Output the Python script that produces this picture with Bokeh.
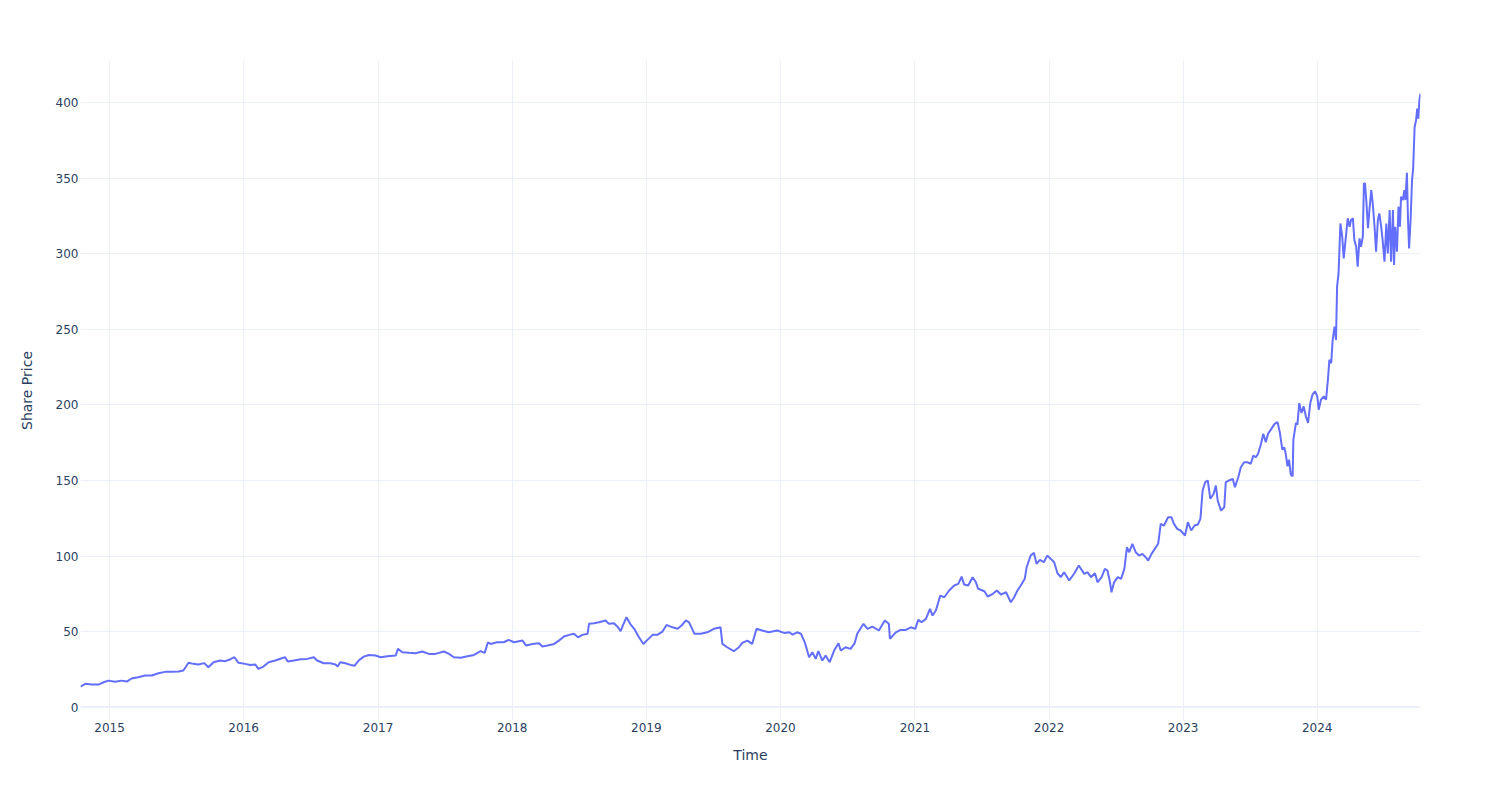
import pandas as pd
from bokeh.plotting import figure
from bokeh.models import Range1d, FixedTicker, DatetimeTickFormatter, Span, ColumnDataSource
from bokeh.embed import file_html
from bokeh.resources import INLINE

dates = [
    "2014-10-14", "2014-10-27", "2014-11-14", "2014-12-02", "2014-12-16", "2014-12-29",
    "2015-01-16", "2015-02-03", "2015-02-17", "2015-03-02", "2015-03-20", "2015-04-08",
    "2015-04-26", "2015-05-14", "2015-06-01", "2015-06-19", "2015-07-08", "2015-07-21",
    "2015-07-27", "2015-08-04", "2015-08-17", "2015-08-31", "2015-09-16", "2015-09-27",
    "2015-10-11", "2015-10-29", "2015-11-12", "2015-11-25", "2015-12-07", "2015-12-18",
    "2016-01-05", "2016-01-19", "2016-02-02", "2016-02-10", "2016-02-24", "2016-03-09",
    "2016-03-27", "2016-04-14", "2016-04-23", "2016-04-30", "2016-05-17", "2016-06-04",
    "2016-06-22", "2016-07-10", "2016-07-19", "2016-08-06", "2016-08-24", "2016-09-07",
    "2016-09-13", "2016-09-20", "2016-10-04", "2016-10-18", "2016-10-29", "2016-11-09",
    "2016-11-23", "2016-12-07", "2016-12-25", "2017-01-08", "2017-01-26", "2017-02-18",
    "2017-02-24", "2017-03-08", "2017-03-26", "2017-04-13", "2017-05-01", "2017-05-19",
    "2017-06-06", "2017-06-29", "2017-07-13", "2017-07-26", "2017-08-14", "2017-09-01",
    "2017-09-19", "2017-10-07", "2017-10-18", "2017-10-27", "2017-11-03", "2017-11-21",
    "2017-12-09", "2017-12-22", "2018-01-06", "2018-01-29", "2018-02-08", "2018-02-25",
    "2018-03-15", "2018-03-24", "2018-04-07", "2018-04-25", "2018-05-08", "2018-05-22",
    "2018-06-05", "2018-06-18", "2018-06-29", "2018-07-11", "2018-07-25", "2018-07-29",
    "2018-08-12", "2018-08-25", "2018-09-12", "2018-09-21", "2018-10-05", "2018-10-16",
    "2018-10-23", "2018-10-31", "2018-11-08", "2018-11-18", "2018-11-29", "2018-12-12",
    "2018-12-24", "2019-01-04", "2019-01-18", "2019-01-31", "2019-02-14", "2019-02-25",
    "2019-03-13", "2019-03-27", "2019-04-07", "2019-04-18", "2019-04-27", "2019-05-12",
    "2019-05-29", "2019-06-16", "2019-07-04", "2019-07-22", "2019-07-27", "2019-08-09",
    "2019-08-27", "2019-09-10", "2019-09-19", "2019-10-03", "2019-10-16", "2019-10-28",
    "2019-11-12", "2019-11-30", "2019-12-23", "2020-01-11", "2020-01-25", "2020-02-03",
    "2020-02-15", "2020-02-26", "2020-03-08", "2020-03-19", "2020-03-28", "2020-04-06",
    "2020-04-13", "2020-04-24", "2020-05-03", "2020-05-14", "2020-05-26", "2020-06-07",
    "2020-06-13", "2020-06-26", "2020-07-10", "2020-07-21", "2020-07-28", "2020-08-14",
    "2020-08-25", "2020-09-07", "2020-09-25", "2020-10-11", "2020-10-22", "2020-10-25",
    "2020-11-10", "2020-11-23", "2020-12-07", "2020-12-21", "2021-01-02", "2021-01-10",
    "2021-01-19", "2021-01-31", "2021-02-11", "2021-02-18", "2021-02-27", "2021-03-11",
    "2021-03-22", "2021-04-04", "2021-04-18", "2021-04-29", "2021-05-08", "2021-05-15",
    "2021-05-26", "2021-06-07", "2021-06-16", "2021-06-22", "2021-07-09", "2021-07-18",
    "2021-08-01", "2021-08-12", "2021-08-23", "2021-09-06", "2021-09-19", "2021-09-28",
    "2021-10-07", "2021-10-16", "2021-10-27", "2021-11-01", "2021-11-12", "2021-11-21",
    "2021-11-28", "2021-12-07", "2021-12-18", "2021-12-27", "2022-01-06", "2022-01-15",
    "2022-01-24", "2022-02-02", "2022-02-11", "2022-02-25", "2022-03-11", "2022-03-23",
    "2022-04-07", "2022-04-16", "2022-04-25", "2022-05-06", "2022-05-13", "2022-05-24",
    "2022-06-02", "2022-06-09", "2022-06-16", "2022-06-20", "2022-06-27", "2022-07-07",
    "2022-07-16", "2022-07-25", "2022-08-01", "2022-08-07", "2022-08-16", "2022-08-25",
    "2022-09-03", "2022-09-12", "2022-09-21", "2022-09-28", "2022-10-07", "2022-10-16",
    "2022-10-25", "2022-11-01", "2022-11-10", "2022-11-21", "2022-11-30", "2022-12-07",
    "2022-12-16", "2022-12-25", "2023-01-06", "2023-01-14", "2023-01-23", "2023-02-01",
    "2023-02-10", "2023-02-17", "2023-02-23", "2023-03-02", "2023-03-09", "2023-03-16",
    "2023-03-25", "2023-03-31", "2023-04-05", "2023-04-14", "2023-04-23", "2023-04-27",
    "2023-05-06", "2023-05-16", "2023-05-22", "2023-05-31", "2023-06-07", "2023-06-16",
    "2023-06-25", "2023-07-04", "2023-07-11", "2023-07-18", "2023-07-24", "2023-08-01",
    "2023-08-07", "2023-08-14", "2023-08-20", "2023-08-29", "2023-09-07", "2023-09-15",
    "2023-09-21", "2023-09-28", "2023-10-03", "2023-10-07", "2023-10-12", "2023-10-16",
    "2023-10-21", "2023-10-26", "2023-10-28", "2023-11-04", "2023-11-08", "2023-11-13",
    "2023-11-19", "2023-11-25", "2023-12-01", "2023-12-07", "2023-12-13", "2023-12-19",
    "2023-12-26", "2024-01-01", "2024-01-05", "2024-01-11", "2024-01-19", "2024-01-25",
    "2024-01-30", "2024-02-03", "2024-02-08", "2024-02-12", "2024-02-17", "2024-02-21",
    "2024-02-24", "2024-02-28", "2024-03-04", "2024-03-09", "2024-03-13", "2024-03-18",
    "2024-03-24", "2024-03-29", "2024-04-02", "2024-04-07", "2024-04-11", "2024-04-16",
    "2024-04-20", "2024-04-25", "2024-04-29", "2024-05-04", "2024-05-07", "2024-05-10",
    "2024-05-14", "2024-05-18", "2024-05-22", "2024-05-27", "2024-05-31", "2024-06-05",
    "2024-06-09", "2024-06-14", "2024-06-18", "2024-06-23", "2024-06-27", "2024-07-02",
    "2024-07-07", "2024-07-11", "2024-07-16", "2024-07-20", "2024-07-25", "2024-07-28",
    "2024-07-31", "2024-08-05", "2024-08-09", "2024-08-13", "2024-08-16", "2024-08-21",
    "2024-08-25", "2024-08-28", "2024-09-01", "2024-09-04", "2024-09-07", "2024-09-11",
    "2024-09-15", "2024-09-18", "2024-09-22", "2024-09-26", "2024-09-29", "2024-10-02",
    "2024-10-05", "2024-10-08",
]

prices = [
    13.6, 15.4, 14.9, 14.9, 16.4, 17.5,
    16.7, 17.5, 16.9, 18.9, 19.7, 20.9,
    20.9, 22.4, 23.3, 23.3, 23.5, 24.2,
    26.4, 29.3, 28.6, 28.2, 29.1, 26.4,
    29.7, 30.8, 30.4, 31.5, 33.0, 29.3,
    28.6, 27.9, 28.2, 25.3, 26.8, 29.7,
    30.8, 32.3, 33.0, 30.1, 30.8, 31.7,
    31.9, 33.0, 30.8, 29.0, 29.0, 28.2,
    26.8, 29.7, 29.0, 27.9, 27.4, 30.8,
    33.4, 34.5, 34.1, 33.0, 33.6, 34.1,
    38.5, 36.3, 35.9, 35.6, 36.8, 35.2,
    35.2, 36.8, 35.2, 33.0, 32.6, 33.6,
    34.5, 37.0, 35.9, 42.9, 41.8, 42.9,
    42.9, 44.5, 42.9, 44.0, 40.7, 41.8,
    42.3, 40.1, 40.7, 41.8, 44.0, 46.7,
    47.8, 48.5, 46.2, 47.8, 48.5, 55.1,
    55.5, 56.2, 57.3, 55.1, 55.5, 52.8,
    50.2, 55.1, 59.5, 55.1, 51.8, 46.2,
    41.8, 44.5, 47.8, 47.8, 50.0, 54.4,
    52.8, 51.8, 54.0, 57.3, 56.2, 48.5,
    48.5, 49.5, 51.8, 52.8, 41.8, 39.6,
    37.0, 39.6, 42.5, 44.0, 41.8, 51.8,
    50.7, 49.5, 50.7, 49.1, 49.5, 48.0,
    49.5, 48.5, 42.3, 33.0, 36.3, 31.9,
    37.0, 30.8, 34.1, 29.7, 37.4, 42.3,
    37.4, 39.6, 38.5, 42.3, 48.5, 55.1,
    51.8, 53.3, 50.7, 57.3, 55.1, 45.2,
    49.5, 51.1, 51.1, 52.8, 51.8, 57.7,
    56.2, 58.4, 65.0, 60.6, 63.9, 73.8,
    72.7, 77.2, 80.5, 81.6, 86.4, 81.1,
    80.5, 86.0, 82.6, 78.3, 76.7, 73.2,
    75.0, 77.2, 74.5, 76.0, 69.4, 72.7,
    77.2, 80.5, 84.9, 92.6, 100.3, 102.1,
    94.8, 97.5, 95.9, 100.3, 98.1, 95.9,
    88.6, 86.0, 89.3, 83.8, 88.6, 93.7,
    88.2, 89.3, 86.0, 88.6, 82.6, 86.0,
    91.5, 90.4, 82.6, 76.0, 82.6, 86.0,
    84.9, 91.5, 105.8, 102.5, 108.1, 102.5,
    100.3, 101.4, 99.2, 97.0, 101.4, 104.8,
    108.1, 121.3, 120.2, 125.7, 125.7, 121.3,
    118.0, 116.9, 113.6, 122.4, 116.9, 120.2,
    120.9, 124.6, 143.4, 148.9, 150.0, 137.9,
    141.2, 146.7, 136.8, 130.1, 132.3, 148.9,
    150.0, 151.1, 145.6, 152.2, 158.8, 162.1,
    162.1, 161.1, 166.6, 165.4, 167.7, 174.3,
    180.9, 175.4, 180.9, 184.2, 187.5, 188.6,
    182.0, 170.5, 172.0, 168.0, 159.4, 163.8,
    154.0, 152.8, 177.1, 188.1, 187.0, 201.3,
    194.7, 199.1, 192.5, 188.1, 201.3, 206.8,
    209.0, 205.7, 196.9, 203.5, 205.7, 203.5,
    216.7, 229.9, 227.7, 243.1, 251.9, 243.1,
    278.4, 287.2, 320.2, 311.4, 297.1, 309.2,
    323.6, 318.0, 322.5, 323.6, 309.2, 304.8,
    291.6, 310.3, 304.8, 311.4, 346.7, 346.7,
    333.5, 317.0, 329.1, 342.3, 333.5, 318.0,
    301.5, 322.5, 326.9, 318.0, 309.2, 294.9,
    320.2, 300.4, 329.1, 294.9, 329.1, 292.7,
    318.0, 301.5, 331.3, 318.0, 337.9, 335.7,
    342.3, 335.7, 353.7, 322.5, 303.7, 322.5,
    348.9, 356.6, 384.1, 388.5, 396.3, 389.6,
    401.8, 406.2,
]

y_ticks = [0, 50, 100, 150, 200, 250, 300, 350, 400]
x_tick_years = [2015, 2016, 2017, 2018, 2019, 2020, 2021, 2022, 2023, 2024]
y_min, y_max = -8.9, 428.1

TEXT = "#2a3f5f"
GRID = "#ebf0f8"
LINE = "#636efa"
FONT = "DejaVu Sans"

dt = pd.to_datetime(dates)
src = ColumnDataSource(dict(date=dt, price=prices))

p = figure(
    width=1500, height=800, x_axis_type="datetime",
    output_backend="svg", toolbar_location=None,
    x_range=Range1d(dt.min().to_pydatetime(), dt.max().to_pydatetime()),
    y_range=Range1d(y_min, y_max),
    min_border_left=80, min_border_right=80, min_border_top=60, min_border_bottom=80,
    background_fill_color="white", border_fill_color="white",
)
p.outline_line_color = None

x_ticks_ms = [pd.Timestamp(f"{y}-01-01").value // 10**6 for y in x_tick_years]
p.xaxis.ticker = FixedTicker(ticks=x_ticks_ms)
fmt = "%Y"
p.xaxis.formatter = DatetimeTickFormatter(
    microseconds=fmt, milliseconds=fmt, seconds=fmt, minsec=fmt, minutes=fmt,
    hourmin=fmt, hours=fmt, days=fmt, months=fmt, years=fmt,
)
p.yaxis.ticker = FixedTicker(ticks=y_ticks)

for ax in (p.xaxis, p.yaxis):
    ax.axis_line_color = None
    ax.major_tick_line_color = None
    ax.minor_tick_line_color = None
    ax.major_tick_out = 0
    ax.major_tick_in = 0
    ax.major_label_text_color = TEXT
    ax.major_label_text_font = FONT
    ax.major_label_text_font_size = "12px"
    ax.axis_label_text_color = TEXT
    ax.axis_label_text_font = FONT
    ax.axis_label_text_font_size = "14px"
    ax.axis_label_text_font_style = "normal"

p.xaxis.axis_label = "Time"
p.yaxis.axis_label = "Share Price"
p.xaxis.major_label_standoff = 2
p.yaxis.major_label_standoff = 2
p.xaxis.axis_label_standoff = 12
p.yaxis.axis_label_standoff = 18

p.xgrid.grid_line_color = GRID
p.ygrid.grid_line_color = GRID
p.xgrid.grid_line_width = 1
p.ygrid.grid_line_width = 1

p.add_layout(Span(location=0, dimension="width", line_color=GRID, line_width=2, level="underlay"))

p.line("date", "price", source=src, line_color=LINE, line_width=2)

open("out.html", "w").write(file_html(p, INLINE))
